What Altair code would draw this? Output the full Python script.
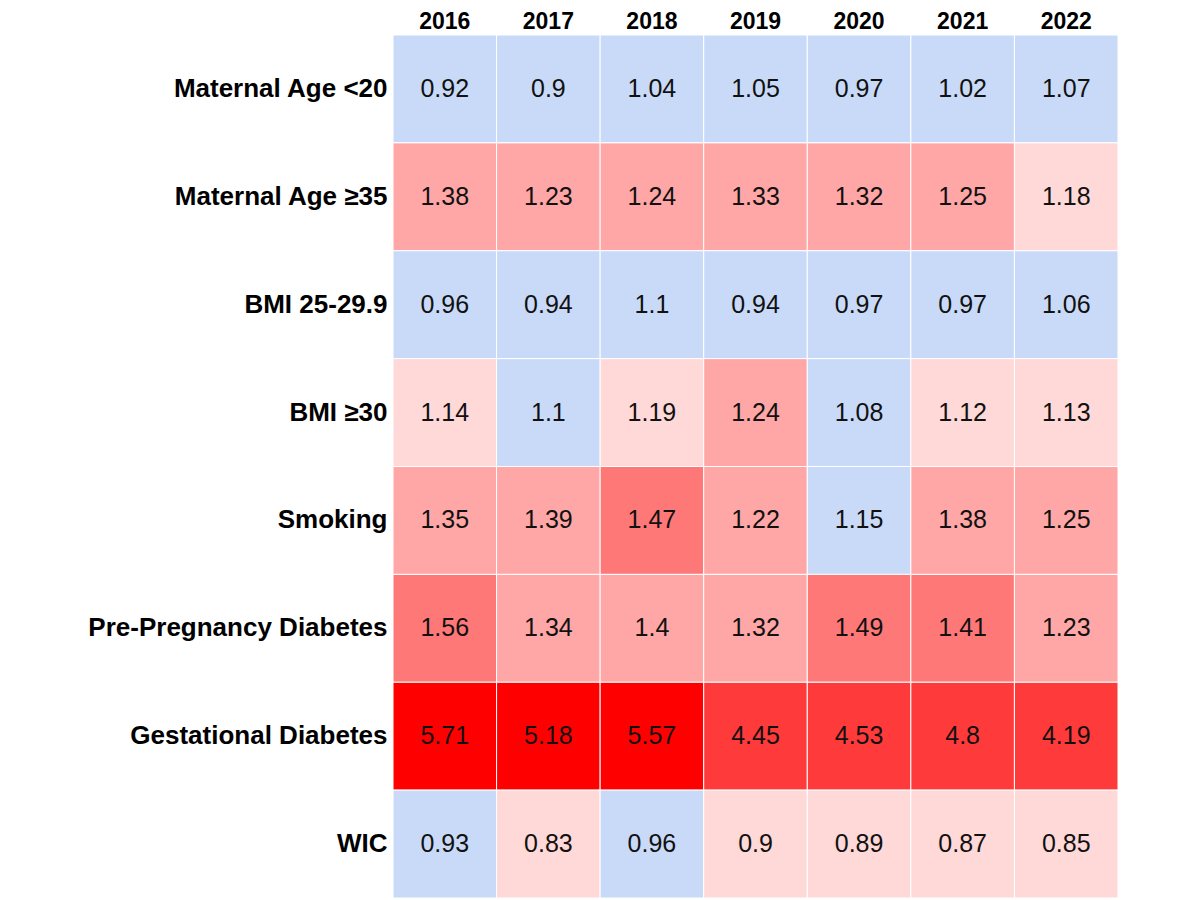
import altair as alt
import pandas as pd

years = ["2016", "2017", "2018", "2019", "2020", "2021", "2022"]
factors = [
    "Maternal Age <20",
    "Maternal Age ≥35",
    "BMI 25-29.9",
    "BMI ≥30",
    "Smoking",
    "Pre-Pregnancy Diabetes",
    "Gestational Diabetes",
    "WIC",
]
values = [
    ["0.92", "0.9", "1.04", "1.05", "0.97", "1.02", "1.07"],
    ["1.38", "1.23", "1.24", "1.33", "1.32", "1.25", "1.18"],
    ["0.96", "0.94", "1.1", "0.94", "0.97", "0.97", "1.06"],
    ["1.14", "1.1", "1.19", "1.24", "1.08", "1.12", "1.13"],
    ["1.35", "1.39", "1.47", "1.22", "1.15", "1.38", "1.25"],
    ["1.56", "1.34", "1.4", "1.32", "1.49", "1.41", "1.23"],
    ["5.71", "5.18", "5.57", "4.45", "4.53", "4.8", "4.19"],
    ["0.93", "0.83", "0.96", "0.9", "0.89", "0.87", "0.85"],
]
# colour level per cell: 0 = blue (not significant), 1..5 = increasing red
levels = [
    [0, 0, 0, 0, 0, 0, 0],
    [2, 2, 2, 2, 2, 2, 1],
    [0, 0, 0, 0, 0, 0, 0],
    [1, 0, 1, 2, 0, 1, 1],
    [2, 2, 3, 2, 0, 2, 2],
    [3, 2, 2, 2, 3, 3, 2],
    [5, 5, 5, 4, 4, 4, 4],
    [0, 1, 0, 1, 1, 1, 1],
]
level_names = ["L0", "L1", "L2", "L3", "L4", "L5"]
level_colors = ["#c9daf8", "#ffd8d8", "#ffa6a6", "#ff7878", "#ff3a3a", "#ff0000"]

rows = []
for i, f in enumerate(factors):
    for j, y in enumerate(years):
        rows.append({"factor": f, "year": y, "label": values[i][j],
                     "level": level_names[levels[i][j]]})
df = pd.DataFrame(rows)

base = alt.Chart(df).encode(
    x=alt.X("year:N", sort=years, title=None,
            axis=alt.Axis(orient="top", labelAngle=0, labelFontSize=23,
                          labelFontWeight="bold", labelFont="Liberation Sans",
                          labelColor="#000000", ticks=False, domain=False,
                          labelPadding=2),
            scale=alt.Scale(paddingInner=0, paddingOuter=0)),
    y=alt.Y("factor:N", sort=factors, title=None,
            axis=alt.Axis(labelFontSize=26, labelFontWeight="bold",
                          labelFont="Liberation Sans", labelColor="#000000",
                          ticks=False, domain=False, labelPadding=6,
                          labelLimit=400),
            scale=alt.Scale(paddingInner=0, paddingOuter=0)),
)

rect = base.mark_rect(stroke="#ffffff", strokeWidth=1).encode(
    color=alt.Color("level:N", scale=alt.Scale(domain=level_names, range=level_colors),
                    legend=None)
)
text = base.mark_text(font="Liberation Sans", fontSize=25, color="#111111").encode(
    text="label:N"
)

chart = (rect + text).properties(
    width=725, height=863,
    padding={"left": 385, "top": 27, "right": 0, "bottom": 0},
    autosize=alt.AutoSizeParams(type="none"),
).configure_view(stroke=None).configure_axis(grid=False)

chart.save("out.html", embed_options={"renderer": "svg", "actions": False})
